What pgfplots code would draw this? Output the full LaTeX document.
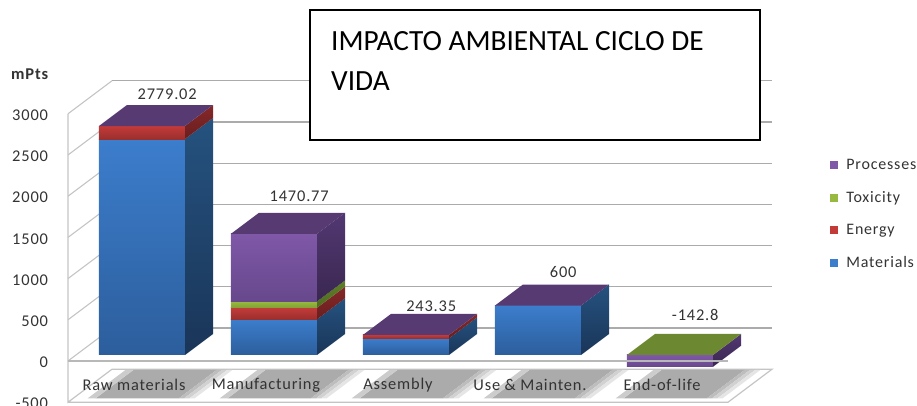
\documentclass[border=0pt]{standalone}
\usepackage{fontspec}
\usepackage{pgfplots}
\pgfplotsset{compat=1.18}
\setmainfont{Carlito}
\newfontfamily\chartfont[LetterSpace=5]{Carlito}
\definecolor{txt}{HTML}{333333}
\definecolor{gridc}{HTML}{ABABAB}
\definecolor{wallc}{HTML}{C4C4C4}
\definecolor{blueA}{HTML}{3C7DCC}\definecolor{blueB}{HTML}{2C5E9C}
\definecolor{blueS}{HTML}{25527F}\definecolor{blueT}{HTML}{1A3558}
\definecolor{redA}{HTML}{C23B39}\definecolor{redB}{HTML}{9A2F2D}
\definecolor{redS}{HTML}{85282A}\definecolor{redT}{HTML}{6A1E1E}
\definecolor{grnA}{HTML}{98B93F}\definecolor{grnB}{HTML}{82A035}
\definecolor{grnS}{HTML}{5F7F28}\definecolor{grnT}{HTML}{4F6A20}
\definecolor{purA}{HTML}{7F58A8}\definecolor{purB}{HTML}{67488C}
\definecolor{purS}{HTML}{523872}\definecolor{purT}{HTML}{3A2750}
\definecolor{topP}{HTML}{573A72}\definecolor{topG}{HTML}{6C8830}
% left x, right x, z0, z1, colour stem: a front and side face
\newcommand\seg[5]{%
  \addplot3[draw=none,forget plot,top color=#5A,bottom color=#5B] coordinates {(#1,0,#3)(#2,0,#3)(#2,0,#4)(#1,0,#4)(#1,0,#3)};
  \addplot3[draw=none,forget plot,top color=#5S,bottom color=#5T] coordinates {(#2,0,#3)(#2,1,#3)(#2,1,#4)(#2,0,#4)(#2,0,#3)};
}
% left x, right x, z, colour: top face
\newcommand\topf[4]{%
  \addplot3[draw=none,forget plot,fill=#4] coordinates {(#1,0,#3)(#2,0,#3)(#2,1,#3)(#1,1,#3)(#1,0,#3)};
}
\newcommand\gridl[1]{%
  \addplot3[wallc,line width=1.1pt,forget plot] coordinates {(-0.5,-0.286,#1)(-0.5,1.286,#1)};
  \addplot3[gridc,line width=1.1pt,forget plot] coordinates {(-0.5,1.286,#1)(4.5,1.286,#1)};
}
% category index: the shaded band on the floor under a label
\newcommand\band[1]{%
  \addplot3[draw=none,forget plot,fill=black!33,x filter/.expression={x+#1}] coordinates {(-0.33,-0.1,-500)(0.30,-0.1,-500)(0.30,1.25,-500)(-0.33,1.25,-500)(-0.33,-0.1,-500)};
  \addplot3[draw=none,forget plot,fill=black!26,x filter/.expression={x+#1}] coordinates {(0.30,-0.1,-500)(0.34,-0.1,-500)(0.34,1.25,-500)(0.30,1.25,-500)(0.30,-0.1,-500)};
  \addplot3[draw=none,forget plot,fill=black!18,x filter/.expression={x+#1}] coordinates {(0.34,-0.1,-500)(0.38,-0.1,-500)(0.38,1.25,-500)(0.34,1.25,-500)(0.34,-0.1,-500)};
  \addplot3[draw=none,forget plot,fill=black!10,x filter/.expression={x+#1}] coordinates {(0.38,-0.1,-500)(0.42,-0.1,-500)(0.42,1.25,-500)(0.38,1.25,-500)(0.38,-0.1,-500)};
  \addplot3[draw=none,forget plot,fill=black!20,x filter/.expression={x+#1}] coordinates {(-0.39,-0.1,-500)(-0.33,-0.1,-500)(-0.33,1.25,-500)(-0.39,1.25,-500)(-0.39,-0.1,-500)};
}
\begin{document}
\begin{tikzpicture}[x=1pt,y=1pt]
\path[use as bounding box,clip] (0,0) rectangle (917,406);
\begin{axis}[
  at={(142pt,51pt)},anchor=origin,
  x={(132pt,0pt)},y={(28pt,21pt)},z={(0pt,0.0824pt)},
  xmin=-0.5,xmax=4.5,ymin=-0.286,ymax=1.286,zmin=-500,zmax=3000,
  clip=false,no markers,axis on top,
  axis line style={draw=none},tick style={draw=none},major tick length=0pt,
  xtick={0,1,2,3,4},
  xticklabels={Raw materials,Manufacturing,Assembly,Use \& Mainten.,End-of-life},
  ytick=\empty,
  ztick={-500,0,500,1000,1500,2000,2500,3000},
  /pgf/number format/assume math mode=true,
  /pgf/number format/1000 sep={},
  xtick pos=left,ztick pos=left,
  xticklabel pos=left,zticklabel pos=left,
  x tick label style={font=\chartfont\fontsize{16.4}{16.4}\selectfont,text=txt,anchor=center,yshift=17pt},
  z tick label style={font=\chartfont\fontsize{16.4}{16.4}\selectfont,text=txt,anchor=east,xshift=-16.5pt,yshift=-1.5pt},
  legend style={draw=none,fill=none,at={(762pt,245pt)},anchor=north west,
    font=\chartfont\fontsize{16}{16}\selectfont,text=txt,row sep=16.4pt,inner sep=0pt},
  legend cell align=left,
  reverse legend,
  legend image code/.code={\fill[#1,draw=none] (0pt,-4pt) rectangle (8pt,4pt);\path (14pt,0pt);},
]
% walls and floor
\addplot3[wallc,line width=1.2pt,forget plot] coordinates {(-0.5,-0.286,3000)(-0.5,-0.286,-500)(-0.5,1.286,-500)(4.5,1.286,-500)(4.5,-0.286,-500)(-0.5,-0.286,-500)};
\band{0}\band{1}\band{2}\band{3}\band{4}
\gridl{0}\gridl{500}\gridl{1000}\gridl{1500}\gridl{2000}\gridl{2500}\gridl{3000}
% Raw materials
\seg{-0.326}{0.326}{0}{2621}{blue}
\seg{-0.326}{0.326}{2621}{2779.02}{red}
\topf{-0.326}{0.326}{2779.02}{topP}
% Manufacturing
\seg{0.674}{1.326}{0}{433}{blue}
\seg{0.674}{1.326}{433}{574}{red}
\seg{0.674}{1.326}{574}{651}{grn}
\seg{0.674}{1.326}{651}{1470.77}{pur}
\topf{0.674}{1.326}{1470.77}{topP}
% Assembly
\seg{1.674}{2.326}{0}{202}{blue}
\seg{1.674}{2.326}{202}{243.35}{red}
\topf{1.674}{2.326}{243.35}{topP}
% Use & Mainten.
\seg{2.674}{3.326}{0}{600}{blue}
\topf{2.674}{3.326}{600}{topP}
% End-of-life
\seg{3.674}{4.326}{-142.8}{0}{pur}
\topf{3.674}{4.326}{0}{topG}
% front floor line
\addplot3[gridc!85,line width=1.5pt,forget plot] coordinates {(-0.5,-0.286,0)(4.5,-0.286,0)};
% value labels
\node[font=\chartfont\fontsize{16.4}{16.4}\selectfont,text=txt,yshift=13pt] at (axis cs:0,0.9,2779.02) {2779.02};
\node[font=\chartfont\fontsize{16.4}{16.4}\selectfont,text=txt,yshift=19pt] at (axis cs:1,0.9,1470.77) {1470.77};
\node[font=\chartfont\fontsize{16.4}{16.4}\selectfont,text=txt,yshift=10pt] at (axis cs:2,0.9,243.35) {243.35};
\node[font=\chartfont\fontsize{16.4}{16.4}\selectfont,text=txt,yshift=15pt] at (axis cs:3,0.9,600) {600};
\node[font=\chartfont\fontsize{16.4}{16.4}\selectfont,text=txt,yshift=21pt] at (axis cs:4,0.9,0) {-142.8};
\addlegendimage{fill=blueA}\addlegendentry{Materials}
\addlegendimage{fill=redA}\addlegendentry{Energy}
\addlegendimage{fill=grnA}\addlegendentry{Toxicity}
\addlegendimage{fill=purA}\addlegendentry{Processes}
\end{axis}
\node[font=\chartfont\fontsize{16.5}{16.5}\selectfont\bfseries,text=txt,anchor=west,inner sep=0pt] at (11,332) {mPts};
\draw[black,line width=1.3pt,fill=white] (310,396) rectangle (760,266);
\node[anchor=base west,inner sep=0pt,font=\fontsize{29.3}{29.3}\selectfont] at (331,355.5) {IMPACTO AMBIENTAL CICLO DE};
\node[anchor=base west,inner sep=0pt,font=\fontsize{29.3}{29.3}\selectfont] at (331,315.5) {VIDA};
\end{tikzpicture}
\end{document}
